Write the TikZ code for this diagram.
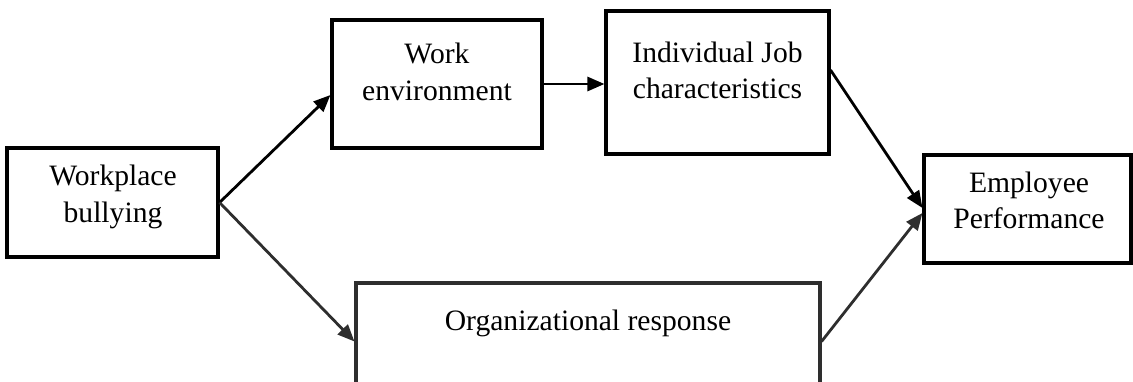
\documentclass[tikz,border=0pt]{standalone}
\usepackage{fontspec}
\setmainfont{Liberation Serif}
\usetikzlibrary{arrows.meta,calc}
\begin{document}
\begin{tikzpicture}[x=1pt,y=-1pt,
  box/.style={draw=black, line width=3.1pt, inner sep=0pt, rectangle},
  graybox/.style={box, draw=black!82},
  lbl/.style={anchor=base, inner sep=0pt, font=\fontsize{29.6}{37}\selectfont},
  arr/.style={line width=2.8pt, -{Triangle[length=17pt,width=14pt]}},
  grayarr/.style={arr, draw=black!82, fill=black!82}]
\useasboundingbox (0,0) rectangle (1133,381);
% boxes
\node[box, minimum width=211pt, minimum height=109pt] (wb) at (112.5,202.5) {};
\node[box, minimum width=210pt, minimum height=128pt] (we) at (437,84) {};
\node[box, minimum width=223pt, minimum height=143pt] (ij) at (717.5,82.5) {};
\node[box, minimum width=207pt, minimum height=108pt] (ep) at (1027.5,209) {};
\node[graybox, minimum width=464pt, minimum height=117pt] (or) at (588,341.5) {};
% labels
\node[lbl] (wb1) at (113,185) {Workplace};
\node[lbl] (wb2) at (113,222) {bullying};
\node[lbl] (we1) at (437,63) {Work};
\node[lbl] (we2) at (437,100) {environment};
\node[lbl] (ij1) at (717.5,62) {Individual Job};
\node[lbl] (ij2) at (717.5,98) {characteristics};
\node[lbl] (ep1) at (1029,192) {Employee};
\node[lbl] (ep2) at (1029,228) {Performance};
\node[lbl] (or1) at (588,330) {Organizational response};
% connectors
\draw[arr] (wb.east) -- ($(we.west)+(0,11)$);
\draw[grayarr] (wb.east) -- (or.west);
\draw[arr] (we.east) -- (we.east -| ij.west);
\draw[arr] ($(ij.east)+(0,-12.5)$) -- ($(ep.west)+(0,-1)$);
\draw[grayarr] (or.east) -- ($(ep.west)+(0,4)$);
\end{tikzpicture}
\end{document}
